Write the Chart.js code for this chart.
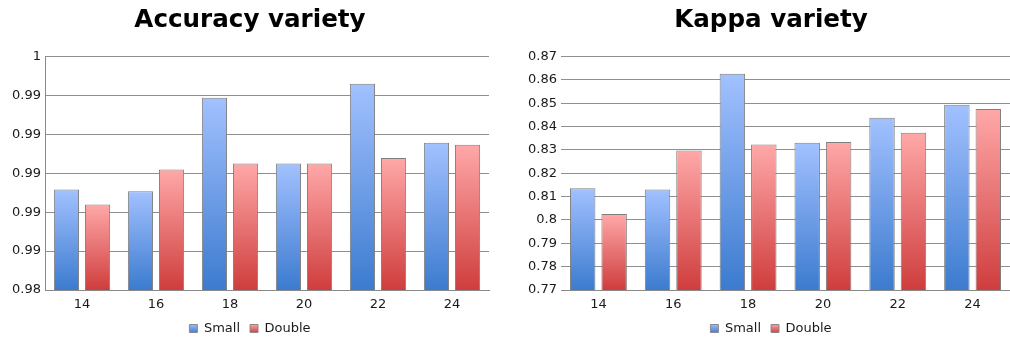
<!DOCTYPE html>
<html>
<head>
<meta charset="utf-8">
<script src="https://cdn.jsdelivr.net/npm/chart.js@4/dist/chart.umd.min.js"></script>
<style>
  html, body { margin: 0; padding: 0; background: #ffffff; }
  .panel { position: absolute; top: 0; width: 500px; height: 342px; }
</style>
</head>
<body>
<div class="panel" style="left:0px"><canvas id="accuracy" width="500" height="342"></canvas></div>
<div class="panel" style="left:510px"><canvas id="kappa" width="500" height="342"></canvas></div>
<script>
// Feature sizes on the x axis
const categories = ['14', '16', '18', '20', '22', '24'];
const seriesNames = ['Small', 'Double'];

// Accuracy per size
const accuracySmall  = [0.98861, 0.98846, 0.99647, 0.99083, 0.99766, 0.99262];
const accuracyDouble = [0.98732, 0.99032, 0.99083, 0.99083, 0.99131, 0.99245];
const accuracyTicks  = ['0.98', '0.99', '0.99', '0.99', '0.99', '0.99', '1'];

// Kappa per size
const kappaSmall  = [0.8136, 0.8130, 0.8626, 0.8331, 0.8438, 0.8493];
const kappaDouble = [0.8025, 0.8297, 0.8323, 0.8334, 0.8374, 0.8475];
const kappaTicks  = ['0.77', '0.78', '0.79', '0.8', '0.81', '0.82', '0.83', '0.84', '0.85', '0.86', '0.87'];

const FONT = "'DejaVu Sans', 'Liberation Sans', sans-serif";
const palette = {
  Small:  { light: '#a2c1ff', dark: '#3c7bcf' },
  Double: { light: '#ffa8a8', dark: '#cf3d3d' }
};

function verticalGradient(ctx, top, bottom, light, dark) {
  const g = ctx.createLinearGradient(0, top, 0, bottom);
  g.addColorStop(0, light);
  g.addColorStop(1, dark);
  return g;
}

// Each bar gets its own light-to-dark fill from its top edge down to the axis
function barFill(name) {
  const p = palette[name];
  return (c) => {
    const chart = c.chart;
    if (!chart.chartArea || c.type !== 'data') return p.dark;
    const top = chart.scales.y.getPixelForValue(c.raw);
    return verticalGradient(chart.ctx, top, chart.chartArea.bottom, p.light, p.dark);
  };
}

// Moves the title and legend blocks sideways/down after layout
const headerShift = {
  id: 'headerShift',
  afterLayout(chart, args, o) {
    const dx = o.dx || 0, dy = o.legendDy || 0;
    const t = chart.titleBlock;
    if (t) { t.left += dx; t.right += dx; }
    const l = chart.legend;
    if (l) { l.left += dx; l.right += dx; l.top += dy; l.bottom += dy; }
  }
};

function makeChart(id, title, small, dbl, min, max, tickLabels, opts) {
  const step = (max - min) / (tickLabels.length - 1);
  return new Chart(document.getElementById(id), {
    type: 'bar',
    plugins: [headerShift],
    data: {
      labels: categories,
      datasets: [
        { label: seriesNames[0], data: small, backgroundColor: barFill('Small'),
          borderColor: '#7f7f7f', borderWidth: 1, borderSkipped: false },
        { label: seriesNames[1], data: dbl, backgroundColor: barFill('Double'),
          borderColor: '#7f7f7f', borderWidth: 1, borderSkipped: false }
      ]
    },
    options: {
      responsive: false,
      animation: false,
      layout: { padding: { left: opts.padLeft, right: opts.padRight, top: 0, bottom: 0 } },
      datasets: { bar: { categoryPercentage: 0.84, barPercentage: 0.81 } },
      plugins: {
        headerShift: { dx: opts.headerDx, legendDy: 3 },
        tooltip: { enabled: false },
        title: {
          display: true, text: title, color: '#000000',
          font: { family: FONT, size: 24.6, weight: 'bold' },
          padding: { top: 6, bottom: 21 }
        },
        legend: {
          position: 'bottom',
          labels: {
            color: '#1a1a1a', boxWidth: 8, boxHeight: 8, padding: 10,
            font: { family: FONT, size: 13 },
            generateLabels(chart) {
              return chart.data.datasets.map((ds, i) => ({
                text: ds.label,
                fillStyle: verticalGradient(chart.ctx, 324, 333, palette[ds.label].light, palette[ds.label].dark),
                strokeStyle: '#8a8a8a',
                lineWidth: 1,
                hidden: false,
                datasetIndex: i,
                fontColor: '#1a1a1a'
              }));
            }
          }
        }
      },
      scales: {
        x: {
          grid: { display: false, drawTicks: false },
          border: { display: true, color: '#8a8a8a', width: 1 },
          ticks: { color: '#1a1a1a', padding: 7, font: { family: FONT, size: 13 }, maxRotation: 0 },
          afterFit(scale) { scale.height = 19; }
        },
        y: {
          min: min, max: max,
          grid: { color: '#8f8f8f', lineWidth: 1, drawTicks: false },
          border: { display: opts.yBorder, color: '#8a8a8a', width: 1 },
          ticks: {
            stepSize: step, padding: 4, color: '#1a1a1a',
            font: { family: FONT, size: 13 },
            callback: (v, i) => tickLabels[i]
          },
          afterFit(scale) { scale.width = opts.yWidth; }
        }
      }
    }
  });
}

makeChart('accuracy', 'Accuracy variety', accuracySmall, accuracyDouble, 0.98, 1.0, accuracyTicks,
  { padLeft: 11, padRight: 11, yWidth: 34, yBorder: true, headerDx: 0 });
makeChart('kappa', 'Kappa variety', kappaSmall, kappaDouble, 0.77, 0.87, kappaTicks,
  { padLeft: 0, padRight: 0, yWidth: 51, yBorder: false, headerDx: 11 });
</script>
</body>
</html>
